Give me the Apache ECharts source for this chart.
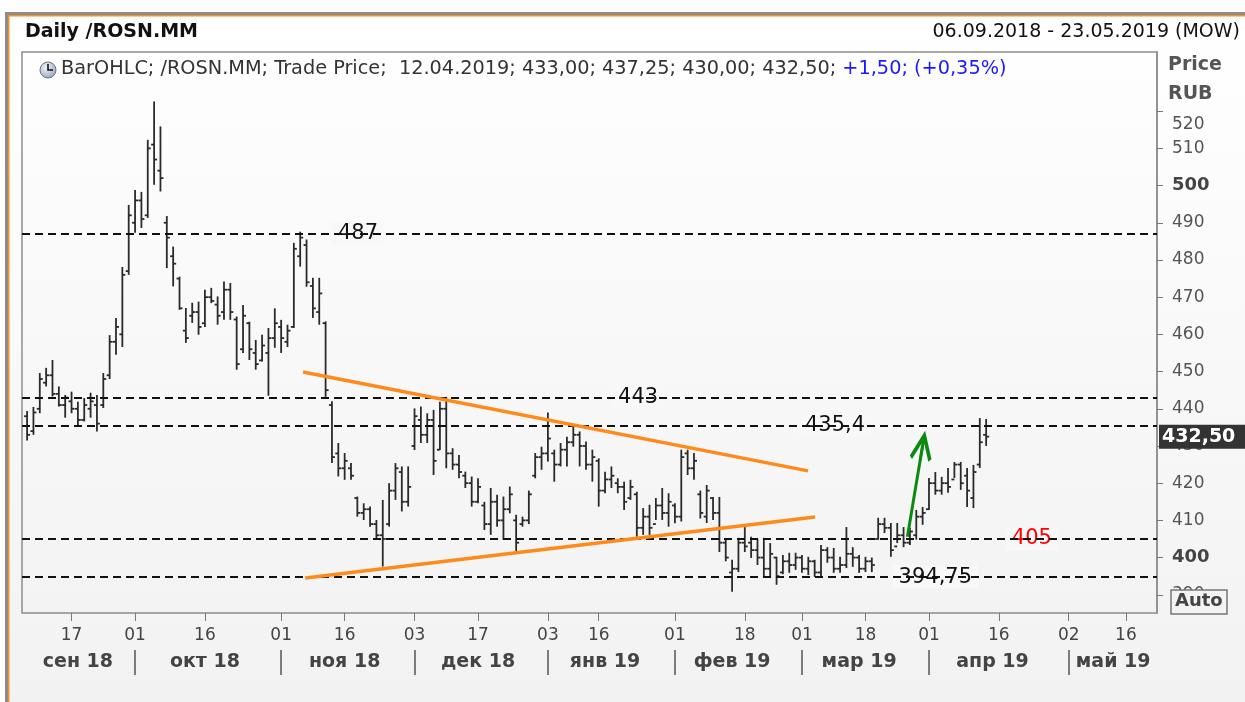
<!DOCTYPE html>
<html>
<head>
<meta charset="utf-8">
<script src="https://cdn.jsdelivr.net/npm/echarts@6/dist/echarts.min.js"></script>
<style>
html, body { margin: 0; padding: 0; background: #fff; }
#chart { width: 1245px; height: 702px; }
</style>
</head>
<body>
<div id="chart"></div>
<script>
// trading calendar (MOEX): weekdays between the first and last date, minus holidays
var firstDay = '2018-09-06', lastDay = '2019-05-23';
var holidays = ['2018-11-05', '2018-12-31', '2019-01-01', '2019-01-02', '2019-01-07', '2019-03-08', '2019-05-01', '2019-05-09'];
var extraWorkdays = ['2018-12-29'];

// daily bars 06.09.2018 .. 12.04.2019
var opens = [
  438, 434, 440, 447, 449, 444, 441, 442, 440, 437,
  440, 441, 441, 449, 458, 460, 477, 490, 496, 492,
  511, 504, 490, 481, 475, 461, 465, 466, 463, 470,
  468, 466, 472, 464, 456, 463, 455, 453, 455, 459,
  462, 458, 462, 481, 484, 473, 466, 463, 441, 428,
  424, 424, 416, 412, 413, 409, 406, 409, 418, 423,
  415, 430, 437, 433, 437, 429, 440, 428, 425, 422,
  420, 415, 414, 409, 415, 410, 413, 410, 409, 410,
  422, 427, 428, 428, 425, 429, 431, 433, 430, 425,
  426, 418, 421, 420, 419, 416, 417, 408, 411, 409,
  414, 412, 414, 411, 428, 424, 417, 411, 416, 412,
  404, 396, 397, 404, 404, 402, 400, 397, 400, 396,
  399, 398, 400, 397, 399, 396, 402, 400, 397, 398,
  401, 400, 397, 399, 405, 409, 408, 403, 406, 404,
  406, 411, 413, 420, 418, 420, 421, 425, 422, 416,
  425, 433
];
var highs = [
  439.4, 440.5, 449.6, 451, 453.1, 446, 443.7, 444.6, 441.9, 442.9,
  444.3, 443.7, 449.6, 459.8, 464.4, 478.1, 494.8, 498.8, 498.3, 512.3,
  522.6, 515.9, 491.8, 483.6, 475.5, 467.1, 468.5, 468.8, 472, 472.5,
  470.2, 474.2, 473.8, 464.8, 467.9, 463.4, 458.5, 459.9, 461.7, 467,
  463.9, 462.6, 484.6, 487.6, 485.5, 475.2, 475.2, 463.5, 442, 430.8,
  428.1, 425.4, 416.4, 414.6, 413.7, 410.1, 415.5, 420, 425.4, 424.5,
  424.5, 440.1, 440.6, 438.8, 439.7, 441.9, 443.2, 429.4, 427.6, 423.1,
  421.8, 421.3, 415, 418.7, 416.9, 416.4, 419.1, 411.5, 411, 418,
  428.1, 429.8, 439, 429, 430.8, 432.5, 435.2, 433.9, 431.2, 429,
  426.7, 423.1, 424.5, 421.3, 420.4, 420.9, 417.7, 413.3, 414.2, 416,
  418.7, 417.3, 414.6, 429, 429, 428.1, 418, 419.5, 416.3, 416.3,
  405, 399.4, 405.3, 408.2, 405.6, 405, 405.3, 403.9, 400.2, 400.7,
  401.3, 401.3, 400.7, 400.2, 399.4, 403.4, 402.8, 402.6, 400.2, 408.2,
  402.8, 400.7, 400.2, 400, 410.7, 410.7, 409.3, 409.3, 408.2, 408,
  412.8, 413.6, 421.4, 423, 421.7, 424.1, 425.7, 425.7, 424.1, 424.9,
  437.5, 437.25
];
var lows = [
  431.5, 433, 438.8, 446, 443.3, 440.6, 437.6, 438.8, 435.2, 436.6,
  437.6, 433.9, 440.2, 448, 454.5, 456.6, 476, 487.3, 488.6, 491.3,
  500.2, 498.4, 477.8, 472.9, 466.6, 457.7, 463.1, 459.9, 462, 468.4,
  462.6, 463.9, 463.9, 450.5, 455, 453.1, 450.5, 452.7, 443.5, 456.4,
  455, 456.6, 461.7, 478.2, 472.8, 464.4, 462.6, 443.2, 425.4, 421.8,
  420.9, 420.9, 411, 410.1, 408.3, 404.8, 397.6, 408.3, 415.5, 412.4,
  413.7, 428.9, 430.8, 430.8, 422.2, 428.9, 424, 423.6, 421.3, 418.7,
  413.7, 414.6, 407.4, 406.1, 408.3, 404.8, 411.9, 401.6, 408.3, 409,
  421.3, 423.6, 425.8, 420.4, 424.5, 424.5, 429.8, 424.5, 423.6, 420.4,
  413.7, 417.3, 418.7, 417.3, 412.8, 415.5, 405.6, 406.1, 406.1, 410.1,
  410.1, 408.3, 409.2, 409.7, 422.2, 420.9, 410.5, 409.3, 410.1, 401.5,
  399, 390.8, 396.1, 401.5, 399.9, 398, 394.5, 394.8, 392.7, 395.5,
  395.9, 396.7, 395.9, 395.3, 394.8, 394.8, 398.6, 395.9, 395.9, 397.2,
  397.5, 395.9, 396.1, 396.1, 404.8, 406.6, 400.2, 403.9, 402.8, 403.4,
  404.8, 408.8, 412.8, 416.9, 416.9, 417.4, 421.4, 418.2, 413.6, 413.3,
  424.1, 430
];
var closes = [
  433, 439, 448, 449, 444, 441, 443, 440, 437, 441,
  442, 436, 448, 458, 462, 476, 492, 496, 491, 510,
  507, 502, 486, 479, 467, 459, 466, 462, 470, 469,
  465, 472, 466, 452, 465, 456, 452, 457, 459, 463,
  459, 461, 483, 486, 474, 467, 471, 445, 427, 424,
  426, 422, 412, 413, 409, 406, 405, 418, 424, 415,
  419, 438, 433, 437, 426, 440, 428, 425, 423, 420,
  415, 419, 409, 415, 410, 413, 417, 404, 410, 417,
  427, 428, 432, 425, 429, 431, 433, 430, 425, 427,
  418, 421, 422, 419, 415, 419, 408, 411, 408, 414,
  412, 415, 411, 427, 424, 426, 412, 418, 412, 404,
  400, 397, 404, 403, 402, 400, 397, 401, 395, 399,
  398, 400, 397, 399, 396, 402, 400, 397, 398, 401,
  400, 397, 399, 398, 409, 408, 402, 406, 404, 407,
  411, 412, 420, 418, 420, 419, 425, 420, 418, 423,
  431, 432.5
];

// horizontal levels and trend annotations
var levels = [487, 443, 435.4, 405, 394.75];
var levelColors = ['#111', '#111', '#111', '#ff0000', '#111'];
var levelLabelAt = [52.1, 96.2, 127.2, 158.2, 143];
var trendLines = [
  [[43.45, 449.9], [122.95, 423.3]],
  [[43.8, 394.5], [124.05, 410.9]]
];
var arrowLine = [[138.6, 405.6], [141.0, 430.1]];

// axis ticks
var priceTicks = [390, 400, 410, 420, 430, 440, 450, 460, 470, 480, 490, 500, 510, 520];
var dayTicks = ['2018-09-17', '2018-10-01', '2018-10-16', '2018-11-01', '2018-11-16', '2018-12-03', '2018-12-17',
  '2019-01-03', '2019-01-16', '2019-02-01', '2019-02-18', '2019-03-01', '2019-03-18', '2019-04-01',
  '2019-04-16', '2019-05-02', '2019-05-16'];
var monthNames = ['янв', 'фев', 'мар', 'апр', 'май', 'июн', 'июл', 'авг', 'сен', 'окт', 'ноя', 'дек'];

function ymd(d) { return d.toISOString().slice(0, 10); }

var dates = [];
(function () {
  var d = new Date(firstDay + 'T00:00:00Z');
  var end = new Date(lastDay + 'T00:00:00Z');
  while (d <= end) {
    var s = ymd(d), wd = d.getUTCDay();
    var work = (wd !== 0 && wd !== 6) || extraWorkdays.indexOf(s) >= 0;
    if (work && holidays.indexOf(s) < 0) dates.push(s);
    d.setUTCDate(d.getUTCDate() + 1);
  }
})();

// month groups: label at the middle, separator at the first day
var monthMid = [], monthText = [], monthStart = [];
dates.forEach(function (s, i) {
  var key = s.slice(0, 7);
  if (i === 0 || dates[i - 1].slice(0, 7) !== key) {
    if (i > 0) monthStart.push(i);
    monthText.push(monthNames[+s.slice(5, 7) - 1] + ' ' + s.slice(2, 4));
    monthMid.push(i);
  }
});
monthMid = monthMid.map(function (start, k) {
  var stop = k + 1 < monthMid.length ? monthMid[k + 1] - 1 : dates.length - 1;
  return Math.floor((start + stop) / 2);
});

var dayTickIdx = dayTicks.map(function (s) { return dates.indexOf(s); });

var bars = opens.map(function (o, i) { return [i, o, highs[i], lows[i], closes[i]]; });

var n = closes.length;
var lastO = opens[n - 1], lastH = highs[n - 1], lastL = lows[n - 1], lastC = closes[n - 1];
var chg = lastC - closes[n - 2];
function fmt(v, d) { return v.toFixed(d == null ? 2 : d).replace('.', ','); }
var lastDate = dates[n - 1].split('-').reverse().join('.');
var legendMain = 'BarOHLC; /ROSN.MM; Trade Price;  ' + lastDate + '; ' + fmt(lastO) + '; ' + fmt(lastH) + '; ' +
  fmt(lastL) + '; ' + fmt(lastC) + '; ';
var legendChg = (chg >= 0 ? '+' : '') + fmt(chg) + '; (' + (chg >= 0 ? '+' : '') + fmt(chg / closes[n - 2] * 100) + '%)';

var FONT = '"DejaVu Sans", Tahoma, sans-serif';

function renderOhlc(params, api) {
  var i = api.value(0);
  var o = api.coord([i, api.value(1)]);
  var h = api.coord([i, api.value(2)]);
  var l = api.coord([i, api.value(3)]);
  var c = api.coord([i, api.value(4)]);
  var t = 3;
  var st = { stroke: '#2a2a2a', lineWidth: 1.8 };
  return {
    type: 'group',
    children: [
      { type: 'line', shape: { x1: h[0], y1: h[1], x2: l[0], y2: l[1] }, style: st },
      { type: 'line', shape: { x1: o[0] - t, y1: o[1], x2: o[0], y2: o[1] }, style: st },
      { type: 'line', shape: { x1: c[0], y1: c[1], x2: c[0] + t, y2: c[1] }, style: st }
    ]
  };
}

function renderLevelLabel(params, api) {
  var k = params.dataIndex;
  var p = api.coord([api.value(0), api.value(1)]);
  return {
    type: 'text', x: p[0], y: p[1],
    style: {
      text: String(levels[k]).replace('.', ','),
      font: '21px ' + FONT, fill: levelColors[k],
      align: 'center', verticalAlign: 'middle',
      backgroundColor: '#f8f8f8', padding: [1, 6]
    }
  };
}

var chart = echarts.init(document.getElementById('chart'));

chart.setOption({
  animation: false,
  textStyle: { fontFamily: FONT },
  grid: {
    left: 22, right: 88, top: 52, bottom: 89,
    outerBoundsMode: 'none',
    show: true,
    borderColor: '#8d8d8d', borderWidth: 1.5,
    backgroundColor: new echarts.graphic.LinearGradient(0, 0, 0, 1, [
      { offset: 0, color: '#fefefe' }, { offset: 1, color: '#f3f3f3' }
    ])
  },
  xAxis: [{
    type: 'value', min: -0.8, max: 177.9,
    axisLine: { show: false, onZero: false },
    splitLine: { show: false },
    axisTick: { show: true, customValues: dayTickIdx, length: 8, lineStyle: { color: '#777', width: 1 } },
    axisLabel: {
      customValues: dayTickIdx, margin: 14, color: '#444', fontSize: 17, fontFamily: FONT,
      formatter: function (v) { return dates[Math.round(v)].slice(8, 10); }
    }
  }, {
    type: 'value', min: -0.8, max: 177.9, position: 'bottom', offset: 37,
    axisLine: { show: false, onZero: false },
    splitLine: { show: false },
    axisTick: { show: true, customValues: monthStart, length: 25, lineStyle: { color: '#555', width: 1.5 } },
    axisLabel: {
      customValues: monthMid, margin: 3, color: '#444', fontSize: 19, fontWeight: 'bold', fontFamily: FONT,
      formatter: function (v) { return monthText[monthMid.indexOf(Math.round(v))]; }
    }
  }],
  yAxis: [{
    type: 'value', position: 'right', min: 385.1, max: 535.9,
    splitLine: { show: false },
    axisLine: { show: true, onZero: false, lineStyle: { color: '#8d8d8d', width: 1.5 } },
    axisTick: { show: true, customValues: priceTicks, length: 6, lineStyle: { color: '#777' } },
    axisLabel: {
      customValues: priceTicks, margin: 15, color: '#555', fontSize: 17, fontFamily: FONT,
      formatter: function (v) {
        if (v === 400 || v === 500) return '{b|' + v + '}';
        if (v === 520) return '{t|' + v + '}';
        return String(v);
      },
      rich: {
        b: { fontWeight: 'bold', fontSize: 18, color: '#444', fontFamily: FONT },
        t: { fontSize: 17, color: '#555', padding: [26, 0, 0, 0], fontFamily: FONT }
      }
    }
  }, {
    type: 'value', position: 'right', min: 385.1, max: 535.9,
    splitLine: { show: false }, axisLine: { show: false, onZero: false }, axisTick: { show: false },
    axisLabel: {
      customValues: [lastC], margin: 2, color: '#fff', fontWeight: 'bold', fontSize: 19, fontFamily: FONT,
      backgroundColor: '#333', padding: [3, 14, 2, 3],
      formatter: function (v) { return fmt(v); }
    }
  }],
  series: [{
    name: 'levels', type: 'line', data: [], z: 1,
    markLine: {
      silent: true, symbol: 'none', label: { show: false },
      lineStyle: { color: '#111', type: [8, 5], width: 1.9 },
      data: levels.map(function (v) { return { yAxis: v }; })
    }
  }, {
    name: 'ROSN', type: 'custom', z: 2,
    renderItem: renderOhlc,
    encode: { x: 0, y: [1, 2, 3, 4] },
    data: bars
  }, {
    name: 'trend', type: 'line', data: [], z: 3,
    markLine: {
      silent: true, symbol: 'none', label: { show: false },
      lineStyle: { color: '#ff8a1c', type: 'solid', width: 3.5 },
      data: trendLines.map(function (p) { return [{ coord: p[0] }, { coord: p[1] }]; })
    }
  }, {
    name: 'arrow', type: 'line', data: [], z: 3,
    markLine: {
      silent: true,
      symbol: ['none', 'path://M12,0 L0,27 L3,30 L10.5,13 L10.5,30 L13.5,30 L13.5,13 L21,30 L24,27 Z'],
      symbolSize: [22, 30],
      label: { show: false },
      lineStyle: { color: '#0b8a12', type: 'solid', width: 3 },
      itemStyle: { color: '#0b8a12' },
      data: [[{ coord: arrowLine[0] }, { coord: arrowLine[1] }]]
    }
  }, {
    name: 'levelLabels', type: 'custom', z: 4, silent: true,
    renderItem: renderLevelLabel,
    encode: { x: 0, y: 1 },
    data: levels.map(function (v, k) { return [levelLabelAt[k], v]; })
  }],
  graphic: [
    { type: 'rect', z: -10, silent: true, shape: { x: 9, y: 16, width: 1240, height: 690 },
      style: { fill: new echarts.graphic.LinearGradient(0, 0, 0, 1, [
        { offset: 0, color: '#ffffff' }, { offset: 1, color: '#f2f2f2' }]) } },
    { type: 'rect', z: 10, silent: true, shape: { x: 6.5, y: 13.5, width: 1260, height: 720 },
      style: { fill: 'none', stroke: '#8c8c8c', lineWidth: 3 } },
    { type: 'rect', z: 10, silent: true, shape: { x: 8.75, y: 15.75, width: 1260, height: 720 },
      style: { fill: 'none', stroke: '#f7931e', lineWidth: 1.5 } },
    { type: 'text', z: 10, left: 25, top: 23,
      style: { text: 'Daily /ROSN.MM', font: 'bold 19px ' + FONT, fill: '#111' } },
    { type: 'text', z: 10, right: 5, top: 23,
      style: { text: '06.09.2018 - 23.05.2019 (MOW)', font: '19px ' + FONT, fill: '#111' } },
    { type: 'text', z: 10, left: 1168, top: 56,
      style: { text: 'Price', font: 'bold 19px ' + FONT, fill: '#555' } },
    { type: 'text', z: 10, left: 1168, top: 85,
      style: { text: 'RUB', font: 'bold 19px ' + FONT, fill: '#555' } },
    { type: 'rect', z: 10, shape: { x: 1171, y: 590, width: 56, height: 24 },
      style: { fill: '#f3f3f3', stroke: '#777', lineWidth: 1.5 } },
    { type: 'text', z: 11, left: 1175, top: 592,
      style: { text: 'Auto', font: 'bold 18px ' + FONT, fill: '#444' } },
    // clock icon
    { type: 'circle', z: 10, shape: { cx: 48, cy: 70, r: 8 },
      style: { fill: new echarts.graphic.RadialGradient(0.4, 0.35, 0.8, [
        { offset: 0, color: '#f4f7fb' }, { offset: 1, color: '#8497ad' }]), stroke: '#667a90', lineWidth: 1 } },
    { type: 'polyline', z: 11, shape: { points: [[48, 64], [48, 70], [53, 70]] },
      style: { stroke: '#111', lineWidth: 1.6, fill: 'none' } },
    { type: 'text', z: 10, left: 61, top: 59,
      style: {
        text: '{a|' + legendMain + '}{c|' + legendChg + '}',
        rich: {
          a: { fontSize: 19.3, fontFamily: FONT, fill: '#333' },
          c: { fontSize: 19.3, fontFamily: FONT, fill: '#1a1aff' }
        }
      } }
  ]
});
</script>
</body>
</html>
